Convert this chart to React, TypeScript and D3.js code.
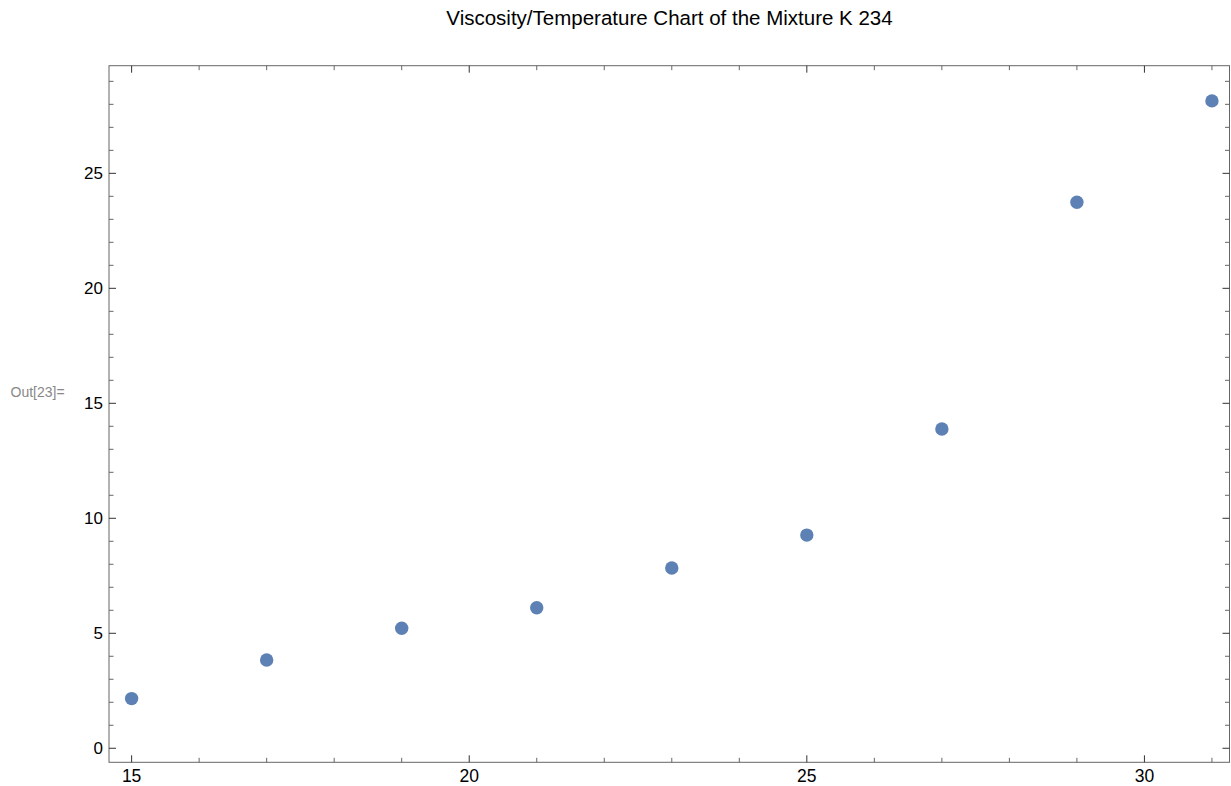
import React from "react";
import * as d3 from "d3";

// Measured temperature (°C) and viscosity values for mixture K 234
const temperature: number[] = [15, 17, 19, 21, 23, 25, 27, 29, 31];
const viscosity: number[] = [2.16, 3.84, 5.22, 6.11, 7.84, 9.27, 13.88, 23.74, 28.15];

const xMajorTicks: number[] = [15, 20, 25, 30];
const yMajorTicks: number[] = [0, 5, 10, 15, 20, 25];

const title = "Viscosity/Temperature Chart of the Mixture K 234";
const cellLabel = "Out[23]=";

const W = 1231;
const H = 786;
const frame = { left: 109, right: 1229.5, top: 65.7, bottom: 762.3 };

export default function App() {
  const x = d3.scaleLinear().domain([14.665, 31.26]).range([frame.left, frame.right]);
  const y = d3.scaleLinear().domain([-0.61, 29.68]).range([frame.bottom, frame.top]);

  const xMinor = d3.range(15, 32, 1).filter((v) => !xMajorTicks.includes(v));
  const yMinor = d3.range(0, 30, 1).filter((v) => !yMajorTicks.includes(v));

  const frameColor = "#666";
  const majorLen = 7;
  const minorLen = 4.5;
  const font = "'Liberation Sans', Arial, sans-serif";

  return (
    <svg
      width={W}
      height={H}
      style={{ position: "absolute", left: 0, top: 0, background: "#fff" }}
      fontFamily={font}
    >
      <text x={669.5} y={24.5} textAnchor="middle" fontSize={20.5} fill="#000">
        {title}
      </text>
      <text x={10.5} y={397} fontSize={14} fill="#888">
        {cellLabel}
      </text>

      {/* frame */}
      <rect
        x={frame.left}
        y={frame.top}
        width={frame.right - frame.left}
        height={frame.bottom - frame.top}
        fill="none"
        stroke={frameColor}
        strokeWidth={1}
      />

      {/* bottom and top ticks */}
      {xMajorTicks.map((v) => (
        <g key={`xM${v}`}>
          <line x1={x(v)} x2={x(v)} y1={frame.bottom} y2={frame.bottom - majorLen} stroke="#333" />
          <line x1={x(v)} x2={x(v)} y1={frame.top} y2={frame.top + majorLen} stroke="#333" />
          <text x={x(v)} y={782} textAnchor="middle" fontSize={17.5} fill="#000">
            {v}
          </text>
        </g>
      ))}
      {xMinor.map((v) => (
        <g key={`xm${v}`}>
          <line x1={x(v)} x2={x(v)} y1={frame.bottom} y2={frame.bottom - minorLen} stroke={frameColor} />
          <line x1={x(v)} x2={x(v)} y1={frame.top} y2={frame.top + minorLen} stroke={frameColor} />
        </g>
      ))}

      {/* left and right ticks */}
      {yMajorTicks.map((v) => (
        <g key={`yM${v}`}>
          <line x1={frame.left} x2={frame.left + majorLen} y1={y(v)} y2={y(v)} stroke="#333" />
          <line x1={frame.right} x2={frame.right - majorLen} y1={y(v)} y2={y(v)} stroke="#333" />
          <text x={103} y={y(v) + 6} textAnchor="end" fontSize={17} fill="#000">
            {v}
          </text>
        </g>
      ))}
      {yMinor.map((v) => (
        <g key={`ym${v}`}>
          <line x1={frame.left} x2={frame.left + minorLen} y1={y(v)} y2={y(v)} stroke={frameColor} />
          <line x1={frame.right} x2={frame.right - minorLen} y1={y(v)} y2={y(v)} stroke={frameColor} />
        </g>
      ))}

      {/* data points */}
      {temperature.map((t, i) => (
        <circle key={t} cx={x(t)} cy={y(viscosity[i])} r={6.7} fill="#5E81B5" />
      ))}
    </svg>
  );
}
